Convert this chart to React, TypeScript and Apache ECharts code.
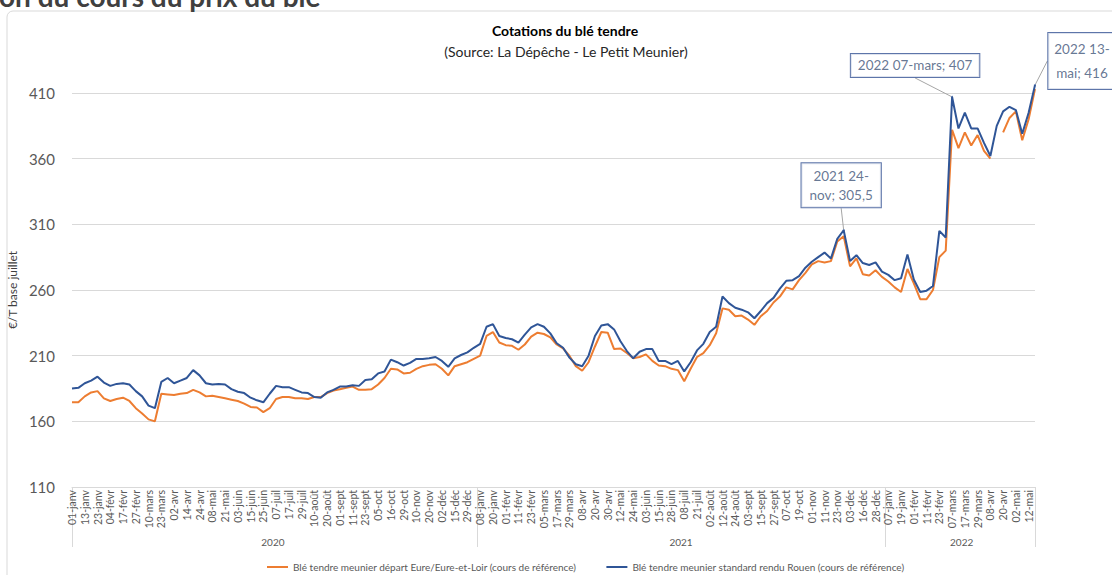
import React, { useEffect, useRef } from 'react';
import * as echarts from 'echarts';

const FONT = 'Lato, "Noto Sans", sans-serif';

// ---------- categories (trading days, sampled) ----------
const dates2020 = ['01-janv','07-janv','13-janv','17-janv','23-janv','29-janv','04-févr','10-févr','17-févr','21-févr','27-févr','04-mars','10-mars','16-mars','23-mars','27-mars','02-avr','08-avr','14-avr','20-avr','24-avr','30-avr','08-mai','14-mai','21-mai','27-mai','03-juin','09-juin','15-juin','19-juin','25-juin','01-juil','07-juil','13-juil','17-juil','23-juil','29-juil','04-août','10-août','14-août','20-août','26-août','01-sept','07-sept','11-sept','17-sept','23-sept','29-sept','05-oct','09-oct','16-oct','22-oct','29-oct','04-nov','10-nov','16-nov','20-nov','26-nov','02-déc','08-déc','15-déc','21-déc','29-déc','31-déc'];
const dates2021 = ['08-janv','14-janv','20-janv','26-janv','01-févr','05-févr','11-févr','17-févr','23-févr','01-mars','05-mars','11-mars','17-mars','23-mars','29-mars','02-avr','08-avr','14-avr','20-avr','26-avr','30-avr','06-mai','12-mai','18-mai','24-mai','28-mai','03-juin','09-juin','15-juin','21-juin','28-juin','02-juil','08-juil','14-juil','21-juil','27-juil','02-août','06-août','12-août','18-août','24-août','30-août','03-sept','09-sept','15-sept','21-sept','27-sept','01-oct','07-oct','13-oct','19-oct','25-oct','01-nov','05-nov','11-nov','17-nov','23-nov','24-nov','03-déc','09-déc','16-déc','22-déc','28-déc','31-déc'];
const dates2022 = ['07-janv','13-janv','19-janv','25-janv','01-févr','07-févr','11-févr','17-févr','23-févr','01-mars','07-mars','11-mars','17-mars','23-mars','29-mars','04-avr','08-avr','14-avr','20-avr','26-avr','02-mai','06-mai','12-mai','13-mai'];

// ---------- values (€/T) ----------
const eure2020 = [174.5,174.5,179,182,183,177.5,175.5,177,178,175.5,170,166,161.5,160,181,180.5,180,181,181.5,184,182,179,179.5,178.5,177.5,176.5,175.5,173.5,171,170.5,167,170,177,178.5,178.5,177.5,177.5,177,178.5,178.5,181.5,183.5,184.5,185.5,186.5,184,184,184.5,188,193,200,199.5,196.5,197,200,202,203,203.5,200,195,202,203.5,205,207.5];
const eure2021 = [210,225,228,220,218,217.5,214.5,218.5,224.5,227.5,226.5,224,218.5,215.5,210,202,198.5,205,217,228,227.5,215,215.5,212,208,209,211,206,202.5,202,200,199,190.5,200,209,212,218,227,246,245,240,240.5,237.5,233.5,240,244,250.5,255,262,260.5,267.5,273,279.5,282,281,282,297,301,278,284,272,271,275,270];
const eure2022 = [266.5,262,258.5,276,265,253,253,260,285,290,382,368,380,370,378,366,360,null,380,391,396,374,390,413];

const rouen2020 = [185,185.5,189,191,194,189.5,187,188.5,189,188,183,179,172,170,190,193,189,191,193,199,195,189,188,188.5,188,184.5,182.5,181.5,178,176,174.5,181,187,186,186,184,182,181.5,178.5,178,182,184,186.5,186.5,187.5,187,191.5,192,196.5,198,207,205,202.5,204.5,207.5,207.5,208,209,206,201.5,208,210.5,212.5,216];
const rouen2021 = [219,232,234,225,223.5,222.5,220,226,231.5,234,232,227,219.5,216,208.5,203.5,202,210,225,233,234,230,221,213.5,208,213,215,215,206,206,203.5,206,198,205,214,219,228,232,255,250,246.5,245,243,238.5,244,250,254,261,267,267.5,270.5,277,281.5,285,288.5,284,299,305.5,282,286.5,280.5,279,281,274];
const rouen2022 = [271.5,267.5,269,287,268,258.5,259.5,263,305,300,407,383,395,383,383,372,362,385,396,399.5,397,379,395,416];

const yearNames = ['2020', '2021', '2022'];
const seriesNames = [
  'Blé tendre meunier départ Eure/Eure-et-Loir (cours de référence)',
  'Blé tendre meunier standard rendu Rouen (cours de référence)',
];
const titleText = 'Cotations du blé tendre';
const subtitleText = '(Source: La Dépêche - Le Petit Meunier)';
const headingText = 'on du cours du prix du blé';
const yAxisName = '€/T base juillet';

const annotations = [
  { year: '2021', date: '24-nov', text: '2021 24-\nnov; 305,5' },
  { year: '2022', date: '07-mars', text: '2022 07-mars; 407' },
  { year: '2022', date: '13-mai', text: '2022 13-\nmai; 416' },
];

// ---------- layout (not data) ----------
const annotationLayout = [
  { dx: -2.5, dy: -17, lineHeight: 19, padding: [3, 8] },
  { dx: -37, dy: -14, lineHeight: 17, padding: [3, 7] },
  { dx: 47, dy: 10, lineHeight: 24, padding: [4, 6] },
];

const BLUE = '#2F5597';
const ORANGE = '#ED7D31';
const GRID = '#D9D9D9';
const LABEL = '#595959';

export default function App() {
  const ref = useRef<HTMLDivElement>(null);

  useEffect(() => {
    if (!ref.current) return;
    const chart = echarts.init(ref.current, null, { renderer: 'svg' });

    const groups = [
      { year: yearNames[0], dates: dates2020 },
      { year: yearNames[1], dates: dates2021 },
      { year: yearNames[2], dates: dates2022 },
    ];
    const allDates = groups.flatMap((g) => g.dates);
    const eure = [...eure2020, ...eure2021, ...eure2022];
    const rouen = [...rouen2020, ...rouen2021, ...rouen2022];
    const lastIdx = allDates.length - 1;

    const starts: number[] = [];
    let off = 0;
    groups.forEach((g) => { starts.push(off); off += g.dates.length; });
    const tickValues = [0, ...starts.slice(1).map((s) => s - 0.5), lastIdx];
    const centerValues = groups.map((g, i) => starts[i] + (g.dates.length - 1) / 2);
    const yearAt = (v: number) => {
      for (let i = groups.length - 1; i >= 0; i--) if (v >= starts[i] - 0.5) return groups[i].year;
      return groups[0].year;
    };

    const annData = annotations.map((a, i) => {
      const gi = groups.findIndex((g) => g.year === a.year);
      const idx = starts[gi] + groups[gi].dates.indexOf(a.date);
      const lay = annotationLayout[i];
      return {
        value: [idx, rouen[idx]],
        label: {
          show: true,
          position: 'top',
          formatter: a.text,
          color: '#3E5478',
          fontFamily: FONT,
          fontSize: 13.5,
          lineHeight: lay.lineHeight,
          align: 'center',
          backgroundColor: '#FFFFFF',
          borderColor: '#345394',
          borderWidth: 1,
          padding: lay.padding,
        },
        labelLine: { show: true, lineStyle: { color: '#A6A6A6', width: 1 } },
      };
    });

    const option: any = {
      animation: false,
      backgroundColor: '#FFFFFF',
      textStyle: { fontFamily: FONT },
      grid: { left: 72, right: 77, top: 93, bottom: 88, containLabel: false, outerBoundsMode: 'none' },
      legend: {
        data: seriesNames,
        top: 557,
        left: 262,
        itemGap: 30,
        itemWidth: 21,
        itemHeight: 2,
        icon: 'rect',
        textStyle: { fontSize: 10, color: LABEL, fontFamily: FONT },
      },
      xAxis: [
        {
          type: 'category',
          data: allDates,
          boundaryGap: false,
          position: 'bottom',
          axisLine: { show: true, lineStyle: { color: GRID } },
          axisTick: { show: false },
          axisLabel: { interval: 1, rotate: 90, fontSize: 10.5, color: LABEL, margin: 3, fontFamily: FONT },
          splitLine: { show: false },
        },
        {
          type: 'value',
          min: 0,
          max: lastIdx,
          position: 'bottom',
          axisLine: { show: false },
          splitLine: { show: false },
          axisTick: { show: true, customValues: tickValues, length: 60, lineStyle: { color: GRID } },
          axisLabel: {
            show: true,
            customValues: centerValues,
            formatter: (v: number) => yearAt(v),
            margin: 50,
            fontSize: 10,
            color: LABEL,
            fontFamily: FONT,
          },
        },
      ],
      yAxis: {
        type: 'value',
        min: 110,
        max: 410,
        interval: 50,
        name: yAxisName,
        nameLocation: 'middle',
        nameGap: 44,
        nameTextStyle: { fontSize: 12, color: '#404040', fontFamily: FONT },
        axisLine: { show: false },
        axisTick: { show: false },
        axisLabel: { fontSize: 15, color: LABEL, margin: 17, fontFamily: FONT },
        splitLine: { lineStyle: { color: GRID, width: 1 } },
      },
      series: [
        {
          name: seriesNames[0],
          type: 'line',
          data: eure,
          showSymbol: false,
          symbol: 'none',
          clip: false,
          connectNulls: false,
          color: ORANGE,
          lineStyle: { color: ORANGE, width: 2 },
          emphasis: { disabled: true },
        },
        {
          name: seriesNames[1],
          type: 'line',
          data: rouen,
          showSymbol: false,
          symbol: 'none',
          clip: false,
          color: BLUE,
          lineStyle: { color: BLUE, width: 2 },
          emphasis: { disabled: true },
        },
        {
          type: 'scatter',
          data: annData,
          symbol: 'circle',
          symbolSize: 2,
          clip: false,
          itemStyle: { color: BLUE },
          emphasis: { disabled: true },
          z: 5,
          labelLayout: (p: any) => {
            const l = annotationLayout[p.dataIndex];
            return l ? { dx: l.dx, dy: l.dy } : {};
          },
        },
      ],
      graphic: [
        {
          type: 'rect',
          z: -10,
          shape: { x: 7, y: 11, width: 1200, height: 700, r: 6 },
          style: { fill: 'none', stroke: GRID, lineWidth: 1 },
          silent: true,
        },
        {
          type: 'text',
          x: -1,
          y: -4,
          style: {
            text: headingText,
            font: `bold 28px ${FONT}`,
            fill: '#404040',
            align: 'left',
            textAlign: 'left',
            verticalAlign: 'middle',
            textVerticalAlign: 'middle',
          },
          silent: true,
        },
        {
          type: 'text',
          x: 565,
          y: 30,
          style: {
            text: titleText,
            font: `bold 14px ${FONT}`,
            fill: '#000000',
            align: 'center',
            textAlign: 'center',
            verticalAlign: 'middle',
            textVerticalAlign: 'middle',
          },
          silent: true,
        },
        {
          type: 'text',
          x: 566,
          y: 51,
          style: {
            text: subtitleText,
            font: `14px ${FONT}`,
            fill: '#262626',
            align: 'center',
            textAlign: 'center',
            verticalAlign: 'middle',
            textVerticalAlign: 'middle',
          },
          silent: true,
        },
      ],
    };

    chart.setOption(option);
    return () => chart.dispose();
  }, []);

  return (
    <div
      ref={ref}
      style={{ position: 'fixed', left: 0, top: 0, width: 1112, height: 575, background: '#fff' }}
    />
  );
}
